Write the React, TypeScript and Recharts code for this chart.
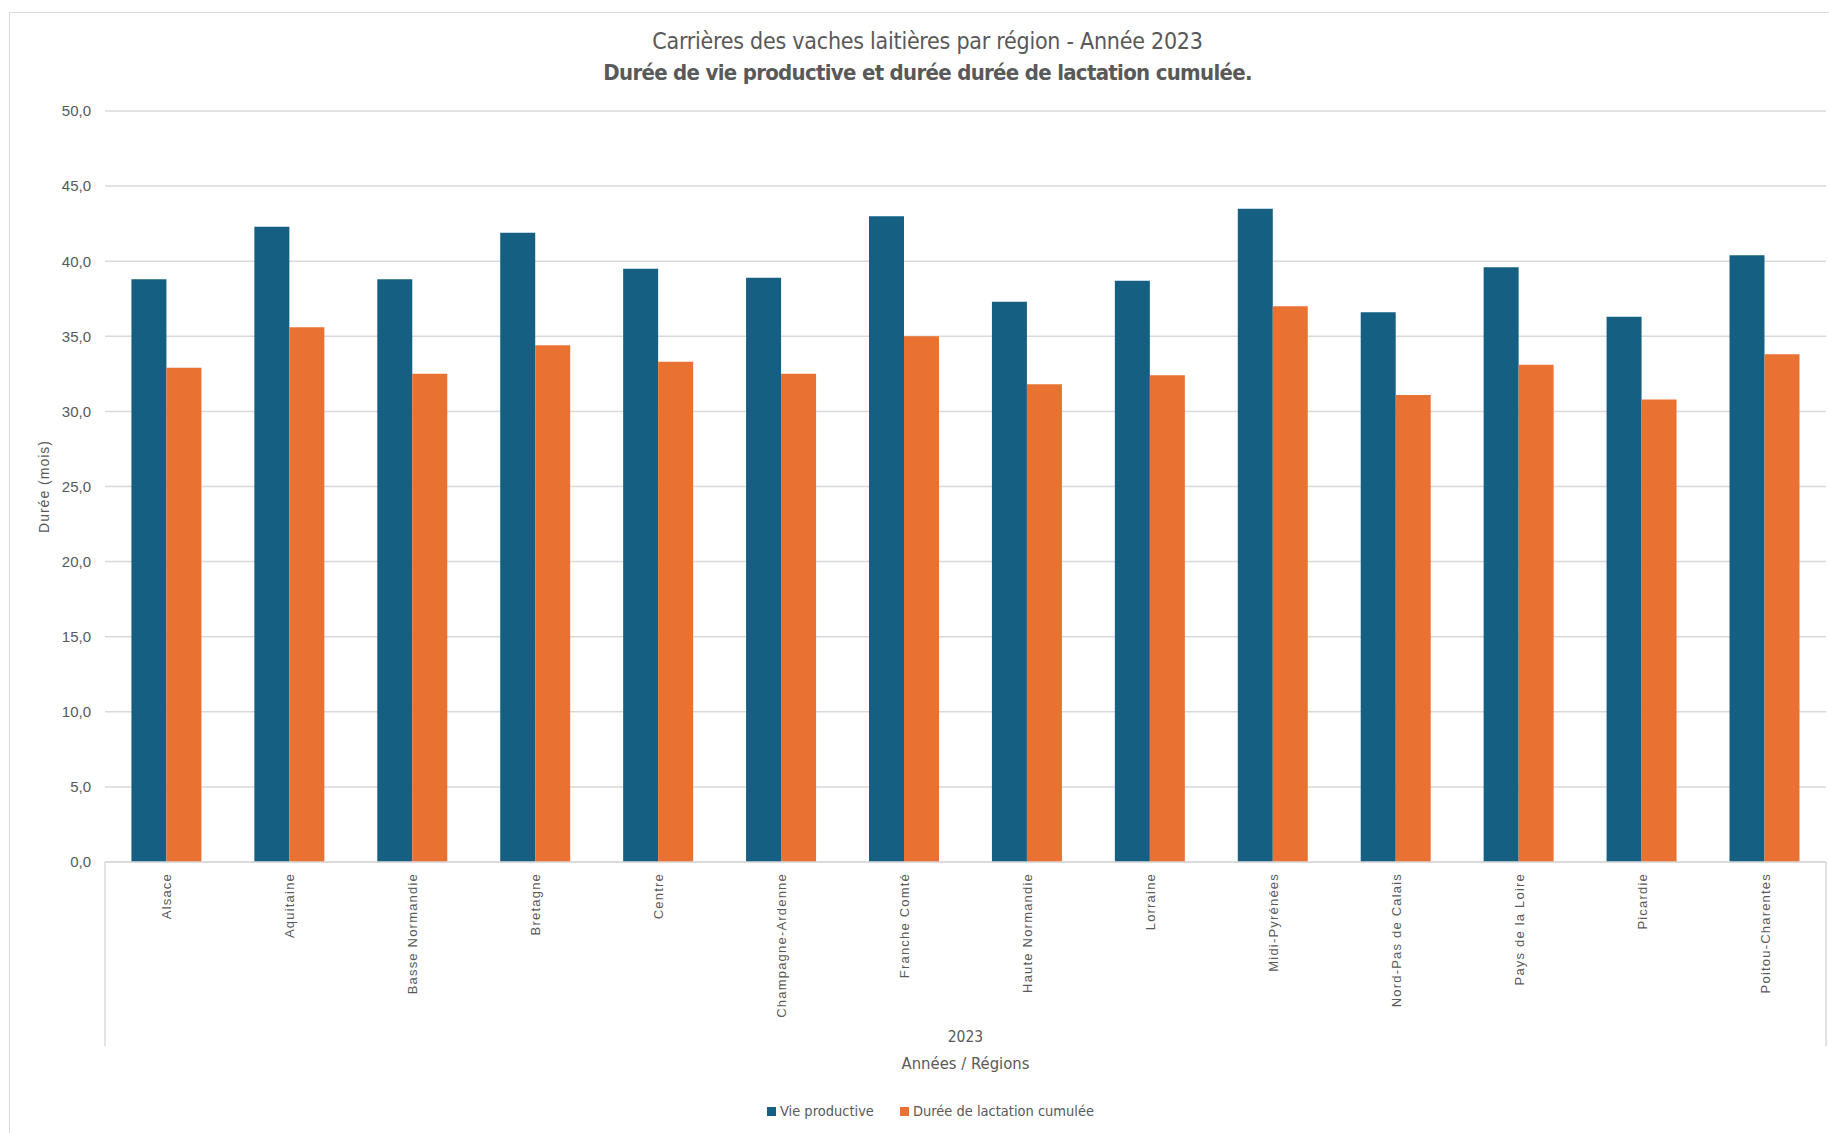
import { BarChart, Bar, XAxis, YAxis, CartesianGrid, Legend } from 'recharts';

// régions (axe des catégories)
const regions = [
  'Alsace',
  'Aquitaine',
  'Basse Normandie',
  'Bretagne',
  'Centre',
  'Champagne-Ardenne',
  'Franche Comté',
  'Haute Normandie',
  'Lorraine',
  'Midi-Pyrénées',
  'Nord-Pas de Calais',
  'Pays de la Loire',
  'Picardie',
  'Poitou-Charentes',
];

// durée de vie productive (mois)
const vieProductive = [38.8, 42.3, 38.8, 41.9, 39.5, 38.9, 43.0, 37.3, 38.7, 43.5, 36.6, 39.6, 36.3, 40.4];

// durée de lactation cumulée (mois)
const lactationCumulee = [32.9, 35.6, 32.5, 34.4, 33.3, 32.5, 35.0, 31.8, 32.4, 37.0, 31.1, 33.1, 30.8, 33.8];

const yTicks = [0, 5, 10, 15, 20, 25, 30, 35, 40, 45, 50];

const SERIES_VIE = 'Vie productive';
const SERIES_LACT = 'Durée de lactation cumulée';
const seriesOrder = [SERIES_VIE, SERIES_LACT];

const COLORS = {
  vie: '#156082',
  lact: '#E97132',
  grid: '#d9d9d9',
  text: '#595959',
};

const NARROW = '"Liberation Sans Narrow", "DejaVu Sans Condensed", sans-serif';
const SANS = '"Liberation Sans", Arial, sans-serif';

const data = regions.map((region, i) => ({
  region,
  vie: vieProductive[i],
  lact: lactationCumulee[i],
}));

const W = 1829;
const H = 1133;

const RegionTick = ({ x, y, payload }: any) => (
  <text
    x={x + 5}
    y={y}
    transform={`rotate(-90, ${x + 5}, ${y})`}
    textAnchor="end"
    fill={COLORS.text}
    fontFamily={SANS}
    fontSize={13}
    letterSpacing={1.2}
  >
    {payload.value}
  </text>
);

// niveau "2023" + titre d'axe + traits de séparation du second niveau
const XAxisTitle = ({ viewBox }: any) => {
  const { x, y, width } = viewBox;
  const cx = x + width / 2;
  return (
    <g>
      <line x1={x} y1={y} x2={x} y2={y + 184} stroke={COLORS.grid} strokeWidth={1.5} />
      <line x1={x + width} y1={y} x2={x + width} y2={y + 184} stroke={COLORS.grid} strokeWidth={1.5} />
      <text x={cx} y={y + 175} textAnchor="middle" dominantBaseline="central" fill={COLORS.text} fontFamily={NARROW} fontSize={15.5}>
        2023
      </text>
      <text x={cx} y={y + 201} textAnchor="middle" dominantBaseline="central" fill={COLORS.text} fontFamily={NARROW} fontSize={16.5}>
        Années / Régions
      </text>
    </g>
  );
};

const YAxisTitle = ({ viewBox }: any) => {
  const cx = 44;
  const cy = viewBox.y + viewBox.height / 2;
  return (
    <text
      x={cx}
      y={cy}
      transform={`rotate(-90, ${cx}, ${cy})`}
      textAnchor="middle"
      dominantBaseline="central"
      fill={COLORS.text}
      fontFamily={SANS}
      fontSize={14}
      letterSpacing={1}
    >
      Durée (mois)
    </text>
  );
};

const LegendContent = ({ payload }: any) => {
  const items = [...(payload || [])].sort(
    (a: any, b: any) => seriesOrder.indexOf(a.value) - seriesOrder.indexOf(b.value)
  );
  return (
    <div style={{ display: 'flex', justifyContent: 'center', gap: 26, fontFamily: NARROW, fontSize: 14.5, color: COLORS.text }}>
      {items.map((p: any) => (
        <div key={p.value} style={{ display: 'flex', alignItems: 'center', gap: 4 }}>
          <span style={{ width: 9, height: 9, background: p.color, display: 'inline-block' }} />
          <span>{p.value}</span>
        </div>
      ))}
    </div>
  );
};

export default function App() {
  return (
    <div style={{ position: 'absolute', left: 0, top: 0, width: W, height: H, background: '#fff', overflow: 'hidden' }}>
      <div
        style={{
          position: 'absolute',
          left: 9,
          top: 12,
          width: W,
          height: H,
          border: `1.5px solid ${COLORS.grid}`,
          boxSizing: 'border-box',
        }}
      />
      <div
        style={{
          position: 'absolute',
          left: 0,
          width: W,
          top: 25,
          paddingLeft: 26,
          boxSizing: 'border-box',
          textAlign: 'center',
          color: COLORS.text,
          fontFamily: NARROW,
          lineHeight: '32px',
        }}
      >
        <div style={{ fontSize: 23, letterSpacing: -0.25 }}>Carrières des vaches laitières par région - Année 2023</div>
        <div style={{ fontSize: 22, fontWeight: 'bold', letterSpacing: -0.7 }}>
          Durée de vie productive et durée durée de lactation cumulée.
        </div>
      </div>
      <div style={{ position: 'absolute', left: 0, top: 0 }}>
        <BarChart
          width={W}
          height={H}
          data={data}
          margin={{ top: 111, right: 3, left: 0, bottom: 0 }}
          barCategoryGap="21.5%"
          barGap={0}
        >
          <CartesianGrid vertical={false} stroke={COLORS.grid} strokeWidth={1.5} />
          <XAxis
            dataKey="region"
            interval={0}
            height={271}
            tickLine={false}
            tickSize={0}
            tickMargin={11}
            axisLine={{ stroke: COLORS.grid, strokeWidth: 1.5 }}
            tick={<RegionTick />}
            label={<XAxisTitle />}
          />
          <YAxis
            width={105}
            domain={[0, 50]}
            ticks={yTicks}
            interval={0}
            axisLine={false}
            tickLine={false}
            tickSize={0}
            tickMargin={14}
            tick={{ fill: COLORS.text, fontFamily: SANS, fontSize: 15 }}
            tickFormatter={(v: number) => v.toFixed(1).replace('.', ',')}
            label={<YAxisTitle />}
          />
          <Legend
            verticalAlign="middle"
            align="center"
            content={<LegendContent />}
            wrapperStyle={{ position: 'absolute', top: 1103, left: 32, width: W - 32, bottom: 'auto' }}
          />
          <Bar dataKey="vie" name={SERIES_VIE} fill={COLORS.vie} isAnimationActive={false} />
          <Bar dataKey="lact" name={SERIES_LACT} fill={COLORS.lact} isAnimationActive={false} />
        </BarChart>
      </div>
    </div>
  );
}
